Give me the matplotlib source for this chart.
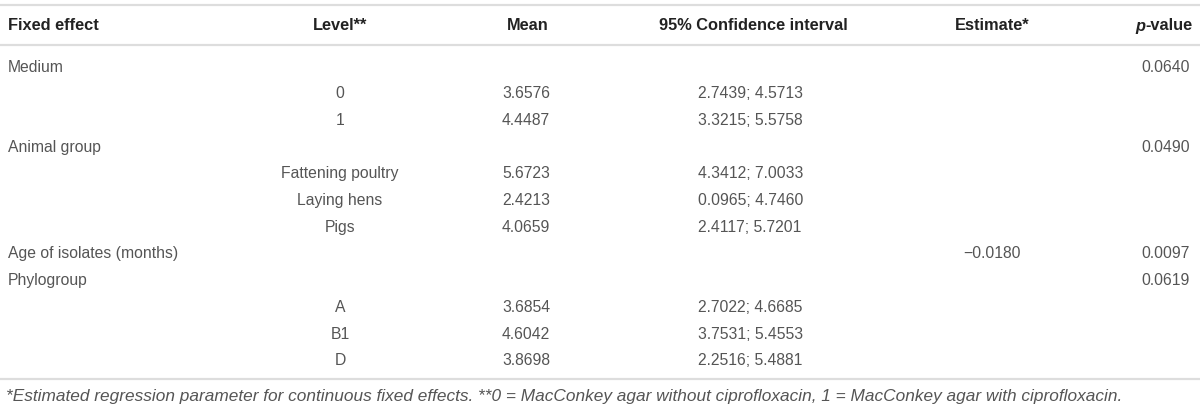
import matplotlib.pyplot as plt

plt.rcParams['font.family'] = ['Liberation Sans', 'DejaVu Sans']

# table contents
fixed_effects = ["Medium", "", "", "Animal group", "", "", "",
                 "Age of isolates (months)", "Phylogroup", "", "", ""]
levels = ["", "0", "1", "", "Fattening poultry", "Laying hens", "Pigs",
          "", "", "A", "B1", "D"]
means = ["", "3.6576", "4.4487", "", "5.6723", "2.4213", "4.0659",
         "", "", "3.6854", "4.6042", "3.8698"]
conf_int = ["", "2.7439; 4.5713", "3.3215; 5.5758", "", "4.3412; 7.0033",
            "0.0965; 4.7460", "2.4117; 5.7201", "", "", "2.7022; 4.6685",
            "3.7531; 5.4553", "2.2516; 5.4881"]
estimates = ["", "", "", "", "", "", "", "\u22120.0180", "", "", "", ""]
p_values = ["0.0640", "", "", "0.0490", "", "", "", "0.0097", "0.0619",
            "", "", ""]
footnote = ("*Estimated regression parameter for continuous fixed effects. "
            "**0 = MacConkey agar without ciprofloxacin, "
            "1 = MacConkey agar with ciprofloxacin.")

W, H = 1200, 411
fig = plt.figure(figsize=(12, 4.11), dpi=100)
ax = fig.add_axes([0, 0, 1, 1])
ax.set_xlim(0, W)
ax.set_ylim(H, 0)
ax.axis('off')

head_c = '#222222'
body_c = '#555555'
line_c = '#dddddd'
hs = 11.8
bs = 11.3

# rules
for y in (5, 45, 379):
    ax.plot([0, W], [y, y], color=line_c, lw=1.6, solid_capstyle='butt')

# header
hy = 26
hkw = dict(fontsize=hs, fontweight='bold', color=head_c, va='center')
ax.text(8, hy, "Fixed effect", ha='left', **hkw)
ax.text(340, hy, "Level**", ha='center', **hkw)
ax.text(549, hy, "Mean", ha='right', **hkw)
ax.text(848, hy, "95% Confidence interval", ha='right', **hkw)
ax.text(992, hy, "Estimate*", ha='center', **hkw)
t = ax.text(1192, hy, "-value", ha='right', **hkw)
ax.annotate("p", xy=(0, 0), xycoords=t, ha='right', va='bottom',
            fontsize=hs, fontweight='bold', fontstyle='italic', color=head_c)

# body rows
y0, dy = 67, 26.7
bkw = dict(fontsize=bs, color=body_c, va='center')
for i in range(len(levels)):
    y = y0 + i * dy
    ax.text(8, y, fixed_effects[i], ha='left', **bkw)
    ax.text(340, y, levels[i], ha='center', **bkw)
    ax.text(550, y, means[i], ha='right', **bkw)
    ax.text(698, y, conf_int[i], ha='left', **bkw)
    ax.text(992, y, estimates[i], ha='center', **bkw)
    ax.text(1190, y, p_values[i], ha='right', **bkw)

ax.text(6, 396, footnote, ha='left', va='center', fontsize=12.4,
        fontstyle='italic', color=body_c)

fig.savefig('out.png', dpi=100)
